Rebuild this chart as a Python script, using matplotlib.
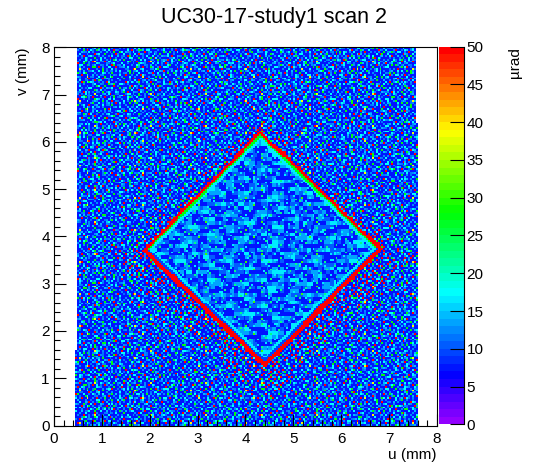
import colorsys
import numpy as np
import matplotlib
matplotlib.use('Agg')
import matplotlib.pyplot as plt
from matplotlib.colors import ListedColormap, BoundaryNorm
from matplotlib.ticker import MultipleLocator
from matplotlib.lines import Line2D

plt.rcParams['font.family'] = ['Liberation Sans', 'DejaVu Sans']

title = 'UC30-17-study1 scan 2'
x_label = 'u (mm)'
y_label = 'v (mm)'
z_label = 'µrad'
z_ticks = [0, 5, 10, 15, 20, 25, 30, 35, 40, 45, 50]

# diamond corners: top, right, bottom, left
corner_u = [4.31, 6.77, 4.40, 1.94]
corner_v = [6.16, 3.75, 1.35, 3.72]

# scanned strip (u at v=0 and at v=8)
scan_u_left = [0.45, 0.50]
scan_u_right = [7.62, 7.57]

# cell colours seen in the picture, as values in µrad
code_values = {'p': 4, 'b': 7, 'm': 11, 'c': 14, 'a': 17,
               'g': 27, 'y': 38, 'r': 55}
speck_values = dict(code_values, c=12)
# close to the diamond the blue cells show up red more often
halo_far_values = dict(code_values, m=55)
halo_near_values = dict(code_values, m=55, a=55)
interior_values = {'d': 7, 'm': 10, 'c': 13, 'a': 16}
interior_speck_values = {'a': 16, 'g': 22, 'y': 30}

# background patch, read cell by cell from a zoom of the scan
background_tile = [
    "bbmbcbbrbbmbbabbbgbbmcb",
    "cbbbbmbbabbbrbbcbbmbbba",
    "bmbrbbcbbbmbbbbagbbbrbb",
    "babbmbbbgbbcbrbbbmbcbbm",
    "bbbcbbrbbmbbbbmbabbbbgb",
    "mbgbbabbbbcbmbbrbbcbmbb",
    "bbbmbbbmbrbbbabbbbbbbrc",
    "brbbcbmbbbbgbbcbmbabbbb",
    "cbbabbbbrbmbbbbbbrbbmbg",
    "bbmbbgbcbbbabmbcbbbbbab",
    "mbbbrbbbbmbbbbrbbagbcbb",
    "bcbbbmbabbbcbbbbmbbbbrb",
    "bbrbcbbbbbrbbmbbcbrbbbm",
    "abbmbbbgbbbbcbbbbbbmbbb",
    "bmbbbbcbbmbabbrbbabbcbr",
    "bbbcbrbbbbbbbmbbgbbbbmb",
    "cbgbbbmbbcbrbbbcbbmbabb",
    "bbbbmbbabbbbbbmbbbrbbbc",
    "rbmbbcbbbrbmbcbbbbbbgbb",
]

# lighter specks from a second background patch ('.' = no speck)
speck_tile = [
    ".c...a....g..c.....c...a...c.",
    "...c.....c...y...a....c..g...",
    "a.....c..a.....c.....g...c..a",
    "..g..c.....c..a...c.....c....",
    ".c....a..c.....g..c...a....c.",
    "....c....a..c.....c..y...c..a",
    "c..a...g.....c..a.....c....c.",
    "...c..c....a.....c...g..a....",
    ".a.....c..g...c....a.....c..c",
    "....c.....c..a...c.....a..g..",
    "c.g...a..c.....c....c...c....",
    "...c.....a..c..g...a.....c..a",
    ".c...c.......a...c..c..g.....",
    "....a..g..c.....c.....a...c.c",
    "a.....c...a..c...y..c.....g..",
    "..c..a.....c.....a....c..c...",
    ".g...c..c...g..a.....c...a..c",
]

# blobs inside the diamond, one letter per 3 x 2 cells
interior_blobs = [
    "ddccmddaacdmmdc",
    "dmcadddmcmddcca",
    "mddmmcadddmaacd",
    "caddmcmdmcddmdd",
    "cmmdddddaacmddm",
    "ddcaamdmcdddcam",
    "dmmcddmdddmcadd",
    "acddmcaamddddmc",
    "cmdddmcmddcamdd",
    "dddacdddmaccddm",
    "mcammdmcdddmmca",
    "ddmdddcaamdcddd",
]
# smaller blobs on top of them, one letter per 2 x 2 cells
interior_small_blobs = [
    "..d..c...m..d...c",
    ".m...d..c....m...",
    "c...m....d..c...d",
    "..d...c.m....d...",
    ".c..d.....c..m..c",
    "d...m..d....c....",
    "..c....c..d...m.d",
    ".d..m.....m..c...",
    "c....d..c....d..m",
    "..m...c...d..c...",
]

# rim around the diamond, per side: TR, RB, BL, LT
rim_red_width = [0.06, 0.09, 0.09, 0.06]
rim_inner_value = [27, 9, 9, 27]
rim_band_value = [16, 16, 16, 16]
halo_near_width = [0.06, 0.2, 0.2, 0.06]
halo_far_width = [0.2, 0.55, 0.55, 0.2]

# ROOT "pretty" palette, 50 colours violet -> red
colors = [colorsys.hls_to_rgb((280 - (i + 1) * 5.6) / 360, 0.5, 1.0) for i in range(49)]
colors.append((1, 0, 0))
cmap = ListedColormap(colors)
cmap.set_over((1, 0, 0))
cmap.set_bad('white')
norm = BoundaryNorm(np.arange(0, 51), cmap.N)

nu, nv = 200, 200
u_edges = np.linspace(0, 8, nu + 1)
v_edges = np.linspace(0, 8, nv + 1)
uc = 0.5 * (u_edges[:-1] + u_edges[1:])
vc = 0.5 * (v_edges[:-1] + v_edges[1:])
U, V = np.meshgrid(uc, vc)


def spread(tile, mapping, rows=1, cols=1):
    t = np.array([[mapping.get(ch, np.nan) for ch in row] for row in tile], float)
    t = np.repeat(np.repeat(t, rows, axis=0), cols, axis=1)
    reps = (nv // t.shape[0] + 1, nu // t.shape[1] + 1)
    return np.tile(t, reps)[:nv, :nu]


def with_specks(base, specks):
    return np.where(np.isnan(specks), base, specks)


speck = spread(speck_tile, speck_values)
back = with_specks(spread(background_tile, code_values), speck)
halo_far = with_specks(spread(background_tile, halo_far_values), speck)
halo_near = with_specks(spread(background_tile, halo_near_values), speck)
inner = spread(interior_blobs, interior_values, 2, 3)
inner = with_specks(inner, spread(interior_small_blobs, interior_values, 2, 2))
inner = with_specks(inner, spread(speck_tile, interior_speck_values))

# signed distance to each side of the diamond (positive inside)
cu, cv = np.mean(corner_u), np.mean(corner_v)
dist = []
for i in range(4):
    pu, pv = corner_u[i], corner_v[i]
    qu, qv = corner_u[(i + 1) % 4], corner_v[(i + 1) % 4]
    n_u, n_v = qv - pv, -(qu - pu)
    n = np.hypot(n_u, n_v)
    n_u, n_v = n_u / n, n_v / n
    if (cu - pu) * n_u + (cv - pv) * n_v < 0:
        n_u, n_v = -n_u, -n_v
    dist.append((U - pu) * n_u + (V - pv) * n_v)
dist = np.array(dist)
dmin = dist.min(axis=0)
side = dist.argmin(axis=0)

red_w = np.array(rim_red_width)[side]
near_w = red_w + np.array(halo_near_width)[side]
far_w = red_w + np.array(halo_far_width)[side]

Z = back.copy()
sel = (dmin <= -red_w) & (dmin > -far_w)
Z[sel] = halo_far[sel]
sel = (dmin <= -red_w) & (dmin > -near_w)
Z[sel] = halo_near[sel]
Z[(dmin > -red_w) & (dmin <= 0)] = 55
sel = (dmin > 0) & (dmin <= 0.04)
Z[sel] = np.array(rim_inner_value)[side][sel]
sel = (dmin > 0.04) & (dmin <= 0.09)
Z[sel] = np.array(rim_band_value)[side][sel]
Z[dmin > 0.09] = inner[dmin > 0.09]

left = scan_u_left[0] + (scan_u_left[1] - scan_u_left[0]) * V / 8
right = scan_u_right[0] + (scan_u_right[1] - scan_u_right[0]) * V / 8
Z = np.ma.masked_where((U < left) | (U > right), Z)

fig = plt.figure(figsize=(5.46, 4.72), dpi=100)
ax = fig.add_axes([54 / 546, 1 - 425.5 / 472, 383 / 546, 378.2 / 472])
mesh = ax.pcolormesh(u_edges, v_edges, Z, cmap=cmap, norm=norm,
                     edgecolors='none', linewidth=0, antialiased=False)
ax.set_xlim(0, 8)
ax.set_ylim(0, 8)
ax.set_xticks(range(9))
ax.set_yticks(range(9))
ax.xaxis.set_minor_locator(MultipleLocator(0.2))
ax.yaxis.set_minor_locator(MultipleLocator(0.2))
ax.tick_params(which='major', direction='in', length=8.3, width=0.8,
               labelsize=11, top=False, right=False)
ax.tick_params(which='minor', direction='in', length=4.1, width=0.8,
               top=False, right=False)
ax.tick_params(axis='x', pad=5)
ax.tick_params(axis='y', pad=3)
for s in ax.spines.values():
    s.set_linewidth(0.8)

ax.set_xlabel(x_label, fontsize=11, loc='right', labelpad=1)
ax.set_ylabel(y_label, fontsize=11, loc='top', labelpad=8)

cax = fig.add_axes([439 / 546, 1 - 424.3 / 472, 25.3 / 546, 377.6 / 472])
cb = fig.colorbar(mesh, cax=cax, ticks=z_ticks)
cb.outline.set_visible(False)
cax.minorticks_off()
cax.tick_params(direction='in', length=10, width=0.8, labelsize=11, pad=1.5)
cax.add_line(Line2D([1, 1], [0, 1], transform=cax.transAxes, color='black',
                    linewidth=0.8, clip_on=False))

fig.text(515 / 546, 1 - 47 / 472, z_label, rotation=90, ha='center', va='top',
         fontsize=11)
fig.text(274 / 546, 1 - 17 / 472, title, ha='center', va='center', fontsize=15.5)

fig.savefig('out.png', dpi=100)
